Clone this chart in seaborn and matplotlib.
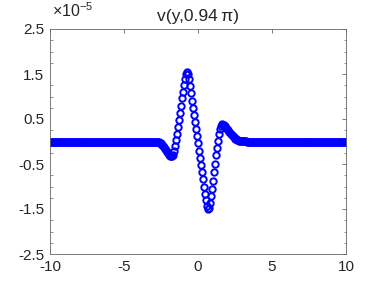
import numpy as np
import pandas as pd
import matplotlib
matplotlib.use("Agg")
import matplotlib.pyplot as plt
from matplotlib.ticker import MultipleLocator
import seaborn as sns

# ---- data (values of v in units of 1e-5) ----
x_start, x_stop, n_points = -10, 10, 301
left_flat = [0.0] * 102            # x = -10 ... -3.267
core_values = [                     # x = -3.2 ... 3.4 (step 1/15)
    0.0, 0.0, 0.0, -0.001, -0.002, -0.003, -0.006, -0.009, -0.015, -0.023,
    -0.034, -0.049, -0.069, -0.094, -0.123, -0.156, -0.192, -0.227, -0.262, -0.291,
    -0.314, -0.327, -0.33, -0.30, -0.22, -0.10, 0.03, 0.17, 0.32, 0.48,
    0.64, 0.80, 0.96, 1.11, 1.26, 1.39, 1.49, 1.55, 1.50, 1.39,
    1.24, 1.08, 0.91, 0.75, 0.59, 0.43, 0.27, 0.12, -0.04, -0.20,
    -0.36, -0.52, -0.68, -0.84, -1.00, -1.16, -1.31, -1.43, -1.51, -1.47,
    -1.37, -1.22, -1.05, -0.87, -0.68, -0.49, -0.31, -0.14, 0.02, 0.16,
    0.27, 0.35, 0.38, 0.375, 0.36, 0.34, 0.31, 0.28, 0.25, 0.215,
    0.185, 0.16, 0.135, 0.112, 0.092, 0.074, 0.059, 0.046, 0.035, 0.026,
    0.019, 0.014, 0.010, 0.007, 0.005, 0.003, 0.002, 0.001, 0.0, 0.0,
]
right_flat = [0.0] * 99            # x = 3.467 ... 10
v_values = left_flat + core_values + right_flat

x_ticks = [-10, -5, 0, 5, 10]
x_tick_labels = ["-10", "-5", "0", "5", "10"]
y_ticks = [-2.5, -1.5, -0.5, 0.5, 1.5, 2.5]
y_tick_labels = ["-2.5", "-1.5", "-0.5", "0.5", "1.5", "2.5"]
title_text = "v(y,0.94\u2009\u03c0)"
exponent_text = r"$\times$10$^{\mathrm{-5}}$"

y_grid = np.linspace(x_start, x_stop, n_points)
df = pd.DataFrame({"y": y_grid, "v": v_values})

# ---- style ----
sns.set_theme(style="white")
plt.rcParams["font.family"] = ["Liberation Sans", "DejaVu Sans"]
plt.rcParams["mathtext.fontset"] = "custom"
plt.rcParams["mathtext.rm"] = "Liberation Sans"
plt.rcParams["mathtext.it"] = "Liberation Sans"
plt.rcParams["mathtext.default"] = "regular"

W, H = 382, 286
fig = plt.figure(figsize=(W / 100, H / 100), dpi=100)
ax = fig.add_axes([50 / W, 1 - 254 / H, 296 / W, 225 / H])

sns.lineplot(data=df, x="y", y="v", ax=ax, estimator=None, sort=False,
             linestyle="", marker="o", markersize=4.6,
             markerfacecolor="none", markeredgecolor="#0000ff",
             markeredgewidth=1.4, color="#0000ff")

ax.set_xlim(x_start, x_stop)
ax.set_ylim(-2.5, 2.5)
ax.set_xticks(x_ticks)
ax.set_xticklabels(x_tick_labels)
ax.set_yticks(y_ticks)
ax.set_yticklabels(y_tick_labels)
ax.yaxis.set_minor_locator(MultipleLocator(0.25))
ax.set_xlabel("")
ax.set_ylabel("")

for s in ax.spines.values():
    s.set_visible(True)
    s.set_color("#666666")
    s.set_linewidth(0.6)

ax.tick_params(axis="both", which="major", direction="in", length=3,
               width=0.6, color="#666666", labelsize=11, labelcolor="#262626",
               top=True, right=True, pad=4)
ax.tick_params(axis="y", which="minor", direction="in", length=1.8,
               width=0.5, color="#666666", left=True, right=True)

ax.set_title(title_text, fontsize=12.5, color="#262626", pad=6)
ax.text(2 / 296, 1 + 12 / 225, exponent_text, transform=ax.transAxes,
        fontsize=11.5, color="#262626", ha="left", va="baseline")

fig.savefig("out.png", dpi=100)
